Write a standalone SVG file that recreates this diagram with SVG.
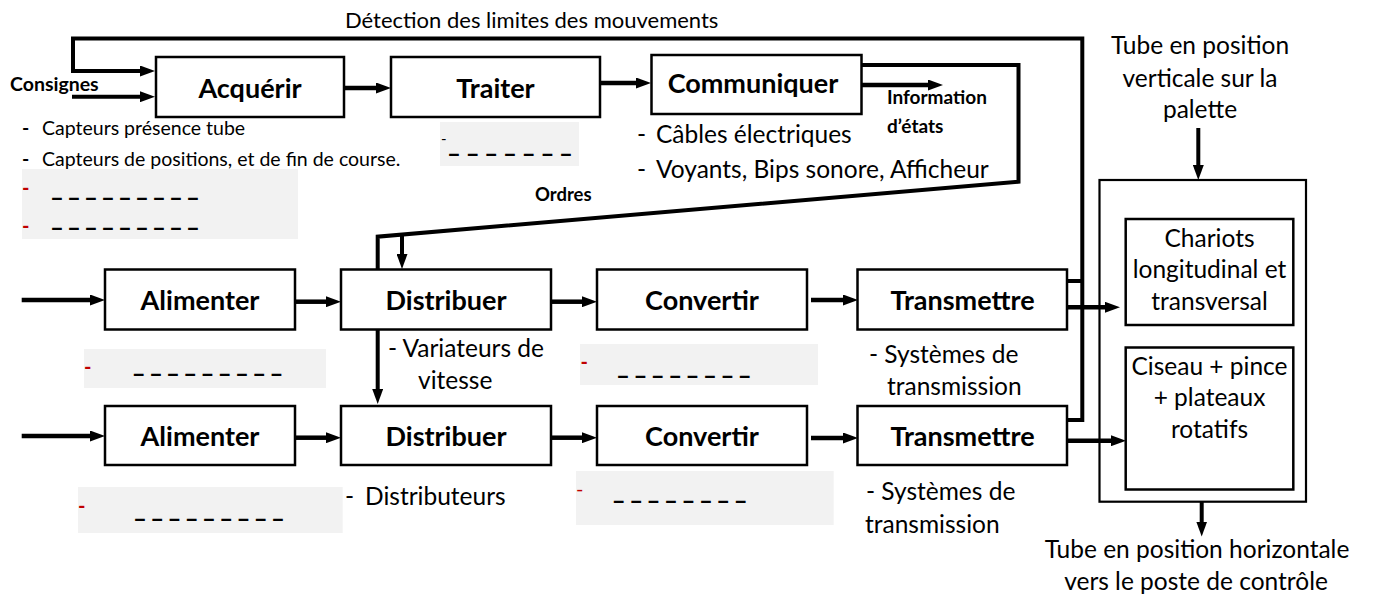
<svg xmlns="http://www.w3.org/2000/svg" width="1375" height="595" viewBox="0 0 1375 595">
<style>
text{font-family:Lato,"Open Sans","Liberation Sans",sans-serif;fill:#000}
.box{fill:#fff;stroke:#000;stroke-width:2.5}
.big{fill:none;stroke:#000;stroke-width:2.2}
.t{font-size:24.5px}
.tc{font-size:24.5px;text-anchor:middle}
.s{font-size:19.5px}
.top{font-size:22px}
.b{font-size:27px;font-weight:bold;text-anchor:middle}
.sb{font-size:19px;font-weight:bold}
.gray{fill:#f2f2f2}
.red{fill:#c00000;font-weight:bold;font-size:20px}
.dash{font-size:24px;font-weight:bold}
.ln{fill:none;stroke:#000;stroke-width:4}
.ar{fill:none;stroke:#000;stroke-width:4.5;marker-end:url(#ah)}
.arl{fill:none;stroke:#000;stroke-width:4;marker-end:url(#ah)}
</style>
<defs>
<marker id="ah" markerUnits="userSpaceOnUse" markerWidth="15" markerHeight="11" viewBox="0 0 15 11" refX="1" refY="5.5" orient="auto"><path d="M0,0 L15,5.5 L0,11 z" fill="#000"/></marker>
</defs>
<rect width="1375" height="595" fill="#fff"/>

<!-- annotations / gray blocks -->
<g id="annotations">
<text class="top" x="345" y="28">Détection des limites des mouvements</text>
<text class="sb" x="10" y="91" style="font-size:19.5px">Consignes</text>
<text class="s" x="22" y="135"><tspan font-weight="bold">-</tspan><tspan x="42">Capteurs présence tube</tspan></text>
<text class="s" x="22" y="166"><tspan font-weight="bold">-</tspan><tspan x="42">Capteurs de positions, et de fin de course.</tspan></text>
<rect class="gray" x="22" y="169" width="276" height="70"/>
<text class="red" x="22" y="195">-</text>
<text class="dash" x="50" y="206" textLength="150" lengthAdjust="spacing">– – – – – – – – –</text>
<text class="red" x="22" y="233">-</text>
<text class="dash" x="50" y="236" textLength="150" lengthAdjust="spacing">– – – – – – – – –</text>

<rect class="gray" x="440" y="122" width="139" height="44"/>
<text x="441" y="144" style="font-size:15px">-</text>
<text class="dash" x="447" y="162" textLength="126" lengthAdjust="spacing">– – – – – – –</text>

<text class="t" x="637" y="143"><tspan>-</tspan><tspan x="656">Câbles électriques</tspan></text>
<text class="t" x="637" y="178"><tspan>-</tspan><tspan x="656">Voyants, Bips sonore, Afficheur</tspan></text>
<text class="sb" x="887" y="104">Information</text>
<text class="sb" x="887" y="133">d’états</text>
<text class="sb" x="535" y="201" style="font-size:18.5px">Ordres</text>

<rect class="gray" x="84" y="349" width="242" height="39"/>
<text class="red" x="84" y="374">-</text>
<text class="dash" x="131.7" y="382" textLength="151.6" lengthAdjust="spacing">– – – – – – – – –</text>
<text class="t" x="388" y="357">- Variateurs de</text>
<text class="t" x="418" y="389">vitesse</text>
<rect class="gray" x="580" y="344" width="238" height="41"/>
<text class="red" x="580.5" y="369">-</text>
<text class="dash" x="616" y="384" textLength="135.7" lengthAdjust="spacing">– – – – – – – –</text>
<text class="t" x="869" y="363">- Systèmes de</text>
<text class="t" x="887" y="395">transmission</text>

<rect class="gray" x="78" y="487" width="264.7" height="46"/>
<text class="red" x="78" y="513">-</text>
<text class="dash" x="133" y="527" textLength="152" lengthAdjust="spacing">– – – – – – – – –</text>
<text class="t" x="345" y="505"><tspan>-</tspan><tspan x="365">Distributeurs</tspan></text>
<rect class="gray" x="576" y="471" width="257.7" height="54"/>
<text class="red" x="576" y="496" style="font-weight:normal">-</text>
<text class="dash" x="611.7" y="509" textLength="136" lengthAdjust="spacing">– – – – – – – –</text>
<text class="t" x="866" y="500">- Systèmes de</text>
<text class="t" x="865" y="533">transmission</text>

<text class="tc" x="1200" y="54">Tube en position</text>
<text class="tc" x="1200" y="87">verticale sur la</text>
<text class="tc" x="1200" y="118">palette</text>
<text class="tc" x="1197" y="558">Tube en position horizontale</text>
<text class="tc" x="1196" y="590">vers le poste de contrôle</text>
</g>

<!-- connectors -->
<g id="connectors">
<path class="arl" d="M1067,281 H1082.3 M1067,420 H1082.3 V38.5 H73 V71 H141"/>
<path class="arl" d="M72,96.7 H141"/>
<path class="ar" d="M344,88 H377"/>
<path class="ar" d="M600,83 H637"/>
<path class="ar" d="M861.7,85 H929"/>
<path class="arl" d="M861.7,65 H1018.5 V181.7 L377.7,236.7 V390"/>
<path class="arl" d="M402,234.6 V255"/>
<path class="ar" d="M21.7,300 H91"/>
<path class="ar" d="M295,301.7 H327"/>
<path class="ar" d="M551,301.7 H583"/>
<path class="ar" d="M811,300 H844"/>
<path class="ar" d="M1067,307.3 H1106"/>
<path class="ar" d="M21.7,436 H91"/>
<path class="ar" d="M295,437.7 H327"/>
<path class="ar" d="M551,437.7 H583"/>
<path class="ar" d="M811,438 H844"/>
<path class="ar" d="M1067,440.7 H1112"/>
<path class="arl" d="M1198.3,128 V166"/>
<path class="arl" d="M1201.7,501.7 V522.5"/>
</g>

<!-- nodes -->
<g id="acquerir"><rect class="box" x="156" y="57" width="188" height="60"/><text class="b" x="250" y="98">Acquérir</text></g>
<g id="traiter"><rect class="box" x="391" y="57" width="209" height="60"/><text class="b" x="495.5" y="98">Traiter</text></g>
<g id="communiquer"><rect class="box" x="651.5" y="55" width="210" height="59"/><text class="b" x="753" y="93">Communiquer</text></g>

<g id="alimenter1"><rect class="box" x="105" y="269.5" width="190" height="60"/><text class="b" x="200" y="310">Alimenter</text></g>
<g id="distribuer1"><rect class="box" x="341" y="269.5" width="210" height="60"/><text class="b" x="446" y="310">Distribuer</text></g>
<g id="convertir1"><rect class="box" x="597" y="269.5" width="210" height="60"/><text class="b" x="702" y="310">Convertir</text></g>
<g id="transmettre1"><rect class="box" x="857.5" y="269.5" width="209.5" height="60"/><text class="b" x="962.5" y="310">Transmettre</text></g>

<g id="alimenter2"><rect class="box" x="105" y="406" width="190" height="59"/><text class="b" x="200" y="446">Alimenter</text></g>
<g id="distribuer2"><rect class="box" x="341" y="406" width="210" height="59"/><text class="b" x="446" y="446">Distribuer</text></g>
<g id="convertir2"><rect class="box" x="597" y="406" width="210" height="59"/><text class="b" x="702" y="446">Convertir</text></g>
<g id="transmettre2"><rect class="box" x="857.5" y="406" width="209.5" height="59"/><text class="b" x="962.5" y="446">Transmettre</text></g>

<g id="systeme">
<rect class="big" x="1099.5" y="180" width="206.5" height="321.7"/>
</g>
<g id="chariots"><rect class="box" x="1125.7" y="219" width="167.6" height="106"/>
<text class="tc" x="1209.5" y="247">Chariots</text>
<text class="tc" x="1209.5" y="278">longitudinal et</text>
<text class="tc" x="1209.5" y="310">transversal</text></g>
<g id="ciseau"><rect class="box" x="1125.7" y="347.5" width="167.6" height="142"/>
<text class="tc" x="1209.5" y="375">Ciseau + pince</text>
<text class="tc" x="1209.5" y="406">+ plateaux</text>
<text class="tc" x="1209.5" y="438">rotatifs</text></g>
</svg>
